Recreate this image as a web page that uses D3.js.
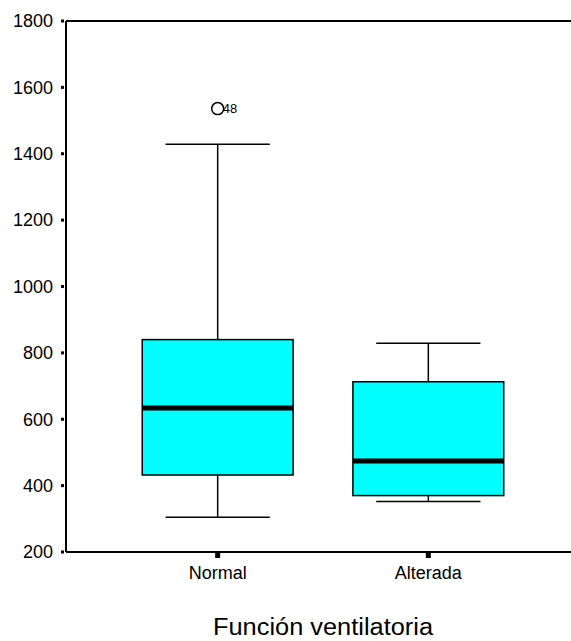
<!DOCTYPE html>
<html><head><meta charset="utf-8">
<script src="https://cdn.jsdelivr.net/npm/d3@7"></script>
<style>body{margin:0;background:#fff}svg{display:block}</style>
</head><body>
<svg id="c" width="571" height="641"></svg>
<script>
const categories = ["Normal", "Alterada"];
const lowWhisker = [305, 352];
const q1 = [432, 370];
const median = [634, 474];
const q3 = [840, 713];
const highWhisker = [1429, 829];
const outlierCategory = ["Normal"];
const outlierValue = [1536];
const outlierLabel = ["48"];
const yTicks = [200, 400, 600, 800, 1000, 1200, 1400, 1600, 1800];
const xTitle = "Función ventilatoria";

(function () {
const svg = d3.select("#c");
const font = "'Liberation Sans', Arial, sans-serif";
const mLeft = 66, mTop = 21, mBottom = 552, mRight = 580;

const y = d3.scaleLinear().domain([200, 1800]).range([mBottom, mTop]);
const x = d3.scalePoint().domain(categories).range([mLeft, mRight]).padding(0.72);
const step = x.step();
const boxW = step * 0.716;
const capW = step * 0.495;

svg.append("line").attr("x1", mLeft).attr("x2", 571).attr("y1", mTop).attr("y2", mTop)
  .attr("stroke", "#000").attr("stroke-width", 2);
svg.append("line").attr("x1", mLeft).attr("x2", mLeft).attr("y1", mTop).attr("y2", mBottom)
  .attr("stroke", "#000").attr("stroke-width", 2);
svg.append("line").attr("x1", mLeft).attr("x2", 571).attr("y1", mBottom).attr("y2", mBottom)
  .attr("stroke", "#000").attr("stroke-width", 2);

const yg = svg.append("g");
yTicks.forEach(t => {
  yg.append("rect").attr("x", mLeft - 5).attr("y", y(t) - 1.5).attr("width", 3).attr("height", 3).attr("fill", "#000");
  yg.append("text").attr("x", 53).attr("y", y(t)).attr("dy", "0.35em")
    .attr("text-anchor", "end").attr("font-family", font).attr("font-size", 18).attr("fill", "#000").text(t);
});

categories.forEach(c => {
  svg.append("rect").attr("x", x(c) - 2.5).attr("y", mBottom + 1).attr("width", 5).attr("height", 5).attr("fill", "#000");
  svg.append("text").attr("x", x(c)).attr("y", 579).attr("text-anchor", "middle")
    .attr("font-family", font).attr("font-size", 18).attr("fill", "#000").text(c);
});

svg.append("text").attr("x", (mLeft + mRight) / 2).attr("y", 635).attr("text-anchor", "middle")
  .attr("font-family", font).attr("font-size", 23).attr("fill", "#000")
  .attr("textLength", 220).attr("lengthAdjust", "spacingAndGlyphs").text(xTitle);

categories.forEach((c, i) => {
  const cx = x(c);
  const g = svg.append("g");
  const ln = (x1, y1, x2, y2, w) => g.append("line").attr("x1", x1).attr("y1", y1).attr("x2", x2).attr("y2", y2)
    .attr("stroke", "#000").attr("stroke-width", w);
  ln(cx, y(highWhisker[i]), cx, y(q3[i]), 1.5);
  ln(cx, y(q1[i]), cx, y(lowWhisker[i]), 1.5);
  ln(cx - capW / 2, y(highWhisker[i]), cx + capW / 2, y(highWhisker[i]), 1.5);
  ln(cx - capW / 2, y(lowWhisker[i]), cx + capW / 2, y(lowWhisker[i]), 1.5);
  g.append("rect").attr("x", cx - boxW / 2).attr("y", y(q3[i])).attr("width", boxW)
    .attr("height", y(q1[i]) - y(q3[i])).attr("fill", "#00ffff").attr("stroke", "#000").attr("stroke-width", 1.5);
  ln(cx - boxW / 2, y(median[i]), cx + boxW / 2, y(median[i]), 5);
});

outlierCategory.forEach((c, i) => {
  svg.append("circle").attr("cx", x(c)).attr("cy", y(outlierValue[i])).attr("r", 6)
    .attr("fill", "#fff").attr("stroke", "#000").attr("stroke-width", 1.5);
  svg.append("text").attr("x", x(c) + 5).attr("y", y(outlierValue[i])).attr("dy", "0.35em")
    .attr("font-family", font).attr("font-size", 13).attr("fill", "#000").text(outlierLabel[i]);
});
})();
</script>
</body></html>
